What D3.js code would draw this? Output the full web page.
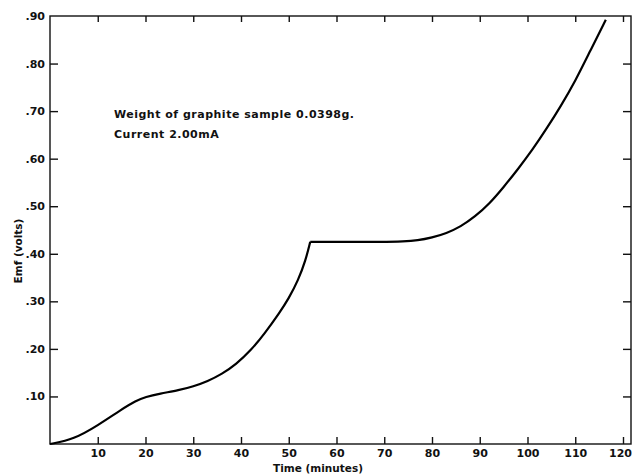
<!DOCTYPE html>
<html>
<head>
<meta charset="utf-8">
<script src="https://cdn.jsdelivr.net/npm/d3@7"></script>
<style>
  body { margin: 0; background: #fff; }
  svg text { font-family: "DejaVu Sans", sans-serif; fill: #111; }
</style>
</head>
<body>
<div id="chart"></div>
<script>
// Data
var timeMin = [0, 5, 10, 15, 18, 20, 23, 27, 30, 33, 36, 39, 42, 45, 48, 50, 52, 53.5, 54.5,
               60, 70, 74, 77, 80, 83, 86, 89, 92, 95, 98, 101, 104, 107, 110, 113, 116.4];
var emfVolts = [0, 0.010, 0.039, 0.073, 0.091, 0.099, 0.106, 0.113, 0.121, 0.132, 0.147, 0.168, 0.196, 0.233, 0.275, 0.306, 0.345, 0.385, 0.425,
                0.425, 0.425, 0.426, 0.428, 0.434, 0.443, 0.457, 0.478, 0.505, 0.540, 0.578, 0.618, 0.663, 0.711, 0.763, 0.824, 0.892];
var cornerIndex = 18; // end of the first rise, where the plateau begins

var xTicks = [10, 20, 30, 40, 50, 60, 70, 80, 90, 100, 110, 120];
var yTicks = [0.10, 0.20, 0.30, 0.40, 0.50, 0.60, 0.70, 0.80, 0.90];
var noteLines = ["Weight of graphite sample 0.0398g.", "Current 2.00mA"];

var width = 632, height = 474;
var plotL = 50, plotR = 631, plotT = 16, plotB = 444;

var svg = d3.select("#chart").append("svg")
  .attr("width", width)
  .attr("height", height);

var x = d3.scaleLinear().domain([0, 120]).range([plotL, 623]);
var y = d3.scaleLinear().domain([0, 0.90]).range([plotB, plotT]);

// frame
svg.append("rect")
  .attr("x", plotL).attr("y", plotT)
  .attr("width", plotR - plotL).attr("height", plotB - plotT)
  .attr("fill", "none").attr("stroke", "#111").attr("stroke-width", 1.4);

// bottom axis: ticks point up, labels below
var xAxis = svg.append("g").attr("transform", "translate(0," + plotB + ")")
  .call(d3.axisBottom(x).tickValues(xTicks).tickSizeInner(-7).tickSizeOuter(0).tickPadding(5));
// top ticks pointing down, no labels
var xTop = svg.append("g").attr("transform", "translate(0," + plotT + ")")
  .call(d3.axisTop(x).tickValues(xTicks).tickSizeInner(-6).tickSizeOuter(0).tickFormat(""));

// left axis: ticks point right
var fmt = function(d) { return d3.format(".2f")(d).replace(/^0/, ""); };
var yAxis = svg.append("g").attr("transform", "translate(" + plotL + ",0)")
  .call(d3.axisLeft(y).tickValues(yTicks).tickSizeInner(-8).tickSizeOuter(0).tickPadding(5).tickFormat(fmt));
// right ticks pointing left
var yRight = svg.append("g").attr("transform", "translate(" + plotR + ",0)")
  .call(d3.axisRight(y).tickValues(yTicks.slice(0, -1)).tickSizeInner(-8).tickSizeOuter(0).tickFormat(""));

[xAxis, xTop, yAxis, yRight].forEach(function(g) {
  g.select(".domain").remove();
  g.selectAll("line").attr("stroke", "#111").attr("stroke-width", 1.4);
  g.selectAll("text")
    .attr("font-family", "DejaVu Sans, sans-serif")
    .attr("font-size", 11)
    .attr("font-weight", "bold")
    .attr("fill", "#111");
});
yAxis.selectAll(".tick").filter(function(d) { return d === 0.90; }).select("line").remove();
// keep the last bottom label inside the page
xAxis.selectAll(".tick").filter(function(d) { return d === 120; }).select("text").attr("dx", -3);

// curve: steep rise with a sharp corner into the plateau, then second rise
var pts = timeMin.map(function(t, i) { return [t, emfVolts[i]]; });
var line = d3.line()
  .x(function(d) { return x(d[0]); })
  .y(function(d) { return y(d[1]); })
  .curve(d3.curveBasis);

svg.append("path")
  .datum(pts.slice(0, cornerIndex + 1))
  .attr("d", line)
  .attr("fill", "none").attr("stroke", "#000").attr("stroke-width", 2.2);
svg.append("path")
  .datum(pts.slice(cornerIndex))
  .attr("d", line)
  .attr("fill", "none").attr("stroke", "#000").attr("stroke-width", 2.2);

// annotation
svg.selectAll("text.note")
  .data(noteLines)
  .enter().append("text")
  .attr("class", "note")
  .attr("x", 114)
  .attr("y", function(d, i) { return 118 + i * 20; })
  .attr("font-size", 11)
  .attr("font-weight", "bold")
  .attr("letter-spacing", 0.5)
  .text(function(d) { return d; });

// axis titles
svg.append("text")
  .attr("x", 318).attr("y", 472)
  .attr("text-anchor", "middle")
  .attr("font-size", 10.5).attr("font-weight", "bold")
  .text("Time (minutes)");
svg.append("text")
  .attr("transform", "translate(22,251) rotate(-90)")
  .attr("text-anchor", "middle")
  .attr("font-size", 10.5).attr("font-weight", "bold")
  .text("Emf (volts)");
</script>
</body>
</html>
